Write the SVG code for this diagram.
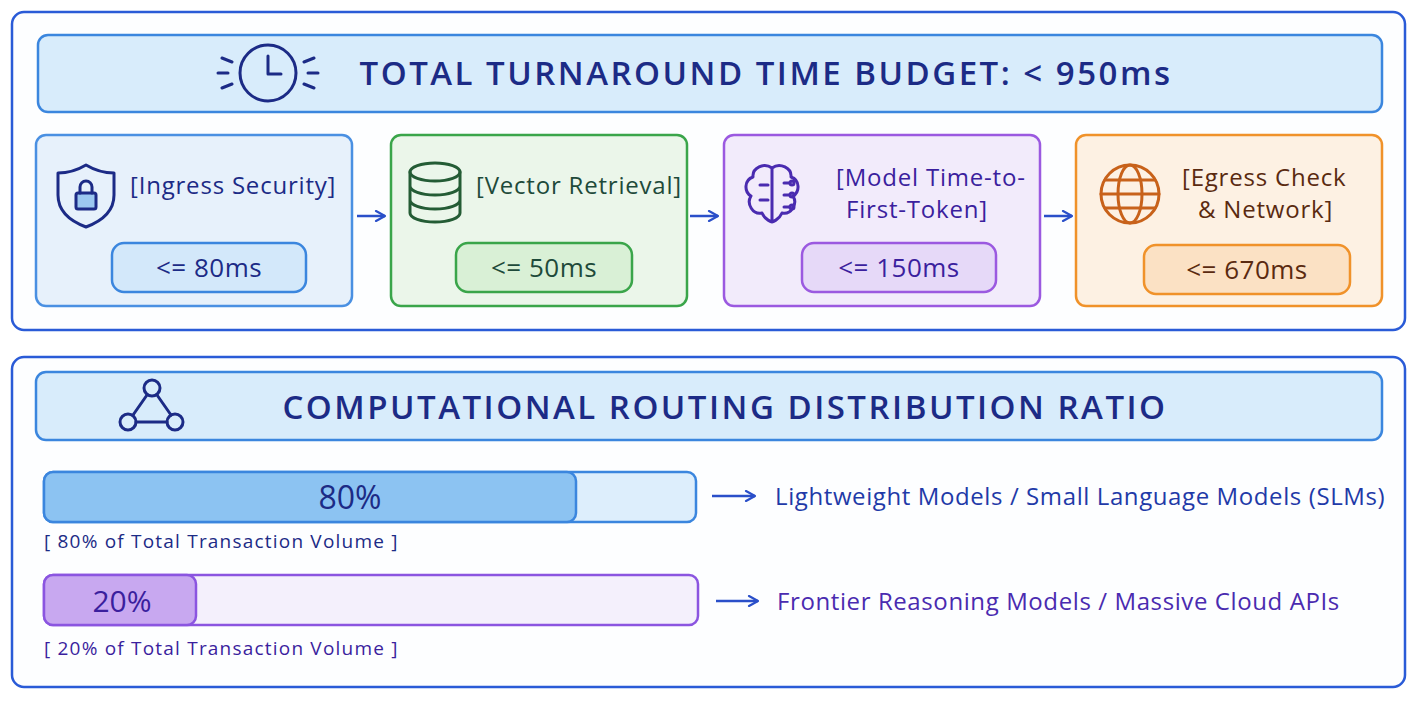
<svg xmlns="http://www.w3.org/2000/svg" width="1419" height="710" viewBox="0 0 1419 710">
<defs>
<style>
text{font-family:"Open Sans","Liberation Sans",sans-serif;fill:#1c2b86}
.panel{fill:#fdfeff;stroke:#2a5bd7;stroke-width:2.5}
.bar{fill:#d8ecfb;stroke:#3b86de;stroke-width:2.5}
.title{font-size:33px;font-weight:600;letter-spacing:2.5px}
.lbl{font-size:24px;letter-spacing:0.8px}
.ms{font-size:26px;letter-spacing:0.5px}
.sub{font-size:19px;letter-spacing:1.2px}
.conn{stroke:#2a4fc9;stroke-width:2.5;fill:none}
.ic{fill:none;stroke-width:3;stroke-linecap:round;stroke-linejoin:round}
</style>
<marker id="ah" viewBox="0 0 12 12" refX="11" refY="6" markerWidth="12" markerHeight="12" orient="auto" markerUnits="userSpaceOnUse"><path d="M2 1L11 6L2 11" fill="none" stroke="#2a4fc9" stroke-width="2.2" stroke-linecap="round" stroke-linejoin="round"/></marker>
</defs>
<rect width="1419" height="710" fill="#fff"/>
<g id="panel-budget">
<rect class="panel" x="12" y="12" width="1393" height="318" rx="12"/>
<rect class="bar" x="38" y="35" width="1344" height="77" rx="10"/>
<g class="ic" stroke="#1c2b86"><circle cx="268" cy="73" r="28"/><path d="M268 56V74H281"/><path d="M222 58l10 4M218 73h10M222 88l10-4M314 58l-10 4M318 73h-10M314 88l-10-4"/></g>
<text class="title" x="766" y="85" text-anchor="middle">TOTAL TURNAROUND TIME BUDGET: &lt; 950ms</text>
</g>
<g id="node-ingress">
<rect x="36" y="135" width="316" height="171" rx="10" fill="#e7f1fb" stroke="#4a90e2" stroke-width="2.5"/>
<g class="ic" stroke="#1c2b86"><path d="M86 165c10 6 20 8 28 8v22c0 16-12 26-28 32c-16-6-28-16-28-32v-22c8 0 18-2 28-8z"/><rect x="76" y="193" width="20" height="16" rx="2" fill="#9cc8f0"/><path d="M80 193v-6a6 6 0 0 1 12 0v6"/></g>
<text class="lbl" x="130" y="194">[Ingress Security]</text>
<rect x="112" y="243" width="194" height="49" rx="12" fill="#d3e8fa" stroke="#3b86de" stroke-width="2.5"/>
<text class="ms" x="209" y="277" text-anchor="middle">&lt;= 80ms</text>
</g>
<g id="node-vector">
<rect x="391" y="135" width="296" height="171" rx="10" fill="#ebf6ea" stroke="#3aa54a" stroke-width="2.5"/>
<g class="ic" stroke="#245c35"><ellipse cx="435" cy="172" rx="25" ry="9"/><path d="M410 172v41c0 5 11 9 25 9s25-4 25-9v-41M410 186c0 5 11 9 25 9s25-4 25-9M410 200c0 5 11 9 25 9s25-4 25-9"/></g>
<text class="lbl" x="476" y="194" style="fill:#1e4a3a">[Vector Retrieval]</text>
<rect x="456" y="243" width="176" height="49" rx="12" fill="#d9f0d6" stroke="#3aa54a" stroke-width="2.5"/>
<text class="ms" x="544" y="277" text-anchor="middle" style="fill:#1e4a3a">&lt;= 50ms</text>
</g>
<g id="node-model">
<rect x="724" y="135" width="316" height="171" rx="10" fill="#f2ebfb" stroke="#9b59e0" stroke-width="2.5"/>
<g class="ic" stroke="#4a2bb0" stroke-width="2.5"><path d="M772 168c-8-6-20 0-19 9c-9 3-9 15-2 19c-5 8 2 19 11 17c3 7 10 9 10 9zM772 168c8-6 20 0 19 9c9 3 9 15 2 19c5 8-2 19-11 17c-3 7-10 9-10 9zM772 168v54"/><path d="M760 185h8M760 200h8M784 183h6M784 195h6M784 207h6"/><circle cx="792" cy="183" r="2"/><circle cx="792" cy="195" r="2"/><circle cx="792" cy="207" r="2"/></g>
<text class="lbl" x="836" y="186" style="fill:#3b1f9e">[Model Time-to-</text>
<text class="lbl" x="846" y="218" style="fill:#3b1f9e">First-Token]</text>
<rect x="802" y="243" width="194" height="49" rx="12" fill="#e6d9f8" stroke="#9b59e0" stroke-width="2.5"/>
<text class="ms" x="899" y="277" text-anchor="middle" style="fill:#3b1f9e">&lt;= 150ms</text>
</g>
<g id="node-egress">
<rect x="1076" y="135" width="306" height="171" rx="10" fill="#fdf1e3" stroke="#f0922a" stroke-width="2.5"/>
<g class="ic" stroke="#c8621a" stroke-width="2.5"><circle cx="1130" cy="194" r="29"/><ellipse cx="1130" cy="194" rx="12" ry="29"/><path d="M1101 194h58M1105 180h50M1105 208h50"/></g>
<text class="lbl" x="1182" y="186" style="fill:#5a2a10">[Egress Check</text>
<text class="lbl" x="1198" y="218" style="fill:#5a2a10">&amp; Network]</text>
<rect x="1144" y="245" width="206" height="49" rx="12" fill="#fbe1c4" stroke="#f0922a" stroke-width="2.5"/>
<text class="ms" x="1247" y="279" text-anchor="middle" style="fill:#5a2a10">&lt;= 670ms</text>
</g>
<g id="panel-routing">
<rect class="panel" x="12" y="357" width="1393" height="330" rx="12"/>
<rect class="bar" x="36" y="372" width="1346" height="68" rx="10"/>
<g class="ic" stroke="#1c2b86"><circle cx="152" cy="388" r="8"/><circle cx="128" cy="422" r="8"/><circle cx="175" cy="422" r="8"/><path d="M147 395l-14 20M157 395l14 20M136 422h31"/></g>
<text class="title" x="725" y="419" text-anchor="middle">COMPUTATIONAL ROUTING DISTRIBUTION RATIO</text>
</g>
<g id="bar-slm">
<rect x="44" y="472" width="652" height="50" rx="9" fill="#ddeefc" stroke="#3b86de" stroke-width="2.5"/>
<rect x="44" y="472" width="532" height="50" rx="9" fill="#8cc3f2" stroke="#3b86de" stroke-width="2.5"/>
<text x="350" y="509" text-anchor="middle" style="font-size:32px">80%</text>
<text class="sub" x="44" y="548">[ 80% of Total Transaction Volume ]</text>
<text x="775" y="505" style="font-size:24px;letter-spacing:0.6px;fill:#1f3aa8">Lightweight Models / Small Language Models (SLMs)</text>
</g>
<g id="bar-frontier">
<rect x="44" y="575" width="654" height="50" rx="9" fill="#f4f0fc" stroke="#8b55e0" stroke-width="2.5"/>
<rect x="44" y="575" width="152" height="50" rx="9" fill="#c8a8f0" stroke="#8b55e0" stroke-width="2.5"/>
<text x="122" y="612" text-anchor="middle" style="font-size:30px;fill:#3b1f9e">20%</text>
<text class="sub" x="44" y="655" style="fill:#3b1f9e">[ 20% of Total Transaction Volume ]</text>
<text x="777" y="610" style="font-size:24px;letter-spacing:0.6px;fill:#4a2bb0">Frontier Reasoning Models / Massive Cloud APIs</text>
</g>
<g id="connectors">
<path class="conn" d="M357 216H385" marker-end="url(#ah)"/>
<path class="conn" d="M690 216H718" marker-end="url(#ah)"/>
<path class="conn" d="M1044 216H1072" marker-end="url(#ah)"/>
<path class="conn" d="M712 496H755" marker-end="url(#ah)"/>
<path class="conn" d="M716 601H758" marker-end="url(#ah)"/>
</g>
</svg>
